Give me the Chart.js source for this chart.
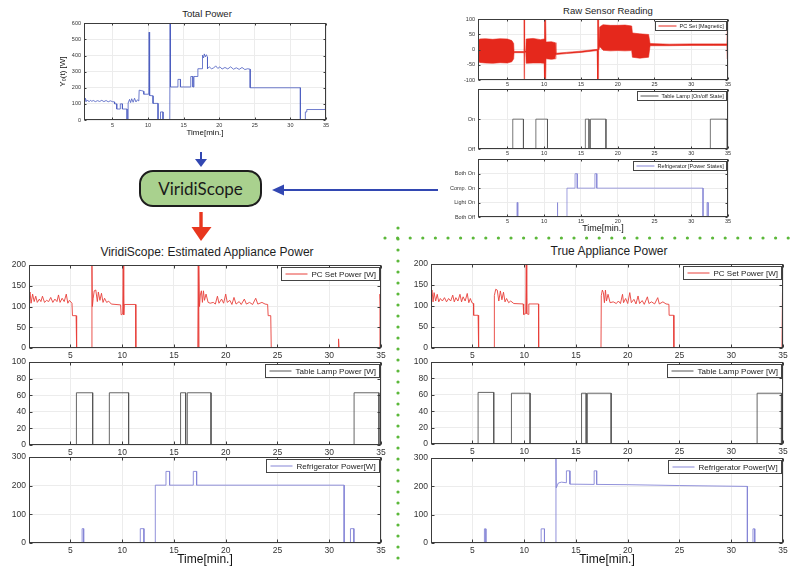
<!DOCTYPE html>
<html>
<head>
<meta charset="utf-8">
<script src="https://cdn.jsdelivr.net/npm/chart.js@4.4.0/dist/chart.umd.min.js"></script>
<style>
  body { margin: 0; background: #fff; width: 793px; height: 567px; overflow: hidden; position: relative;
         font-family: "Liberation Sans", Arial, sans-serif; }
  .plot { position: absolute; }
  .ttl { position: absolute; transform: translate(-50%, -50%); white-space: nowrap; color: #1e1e1e; }
  #scope { position: absolute; left: 139px; top: 170px; width: 123px; height: 37px; box-sizing: border-box;
           border: 2px solid #1d1d1d; border-radius: 14px; background: #a9d18e;
           display: flex; align-items: center; justify-content: center;
           font-family: Lato, sans-serif; font-size: 17px; font-weight: 400; color: #1a1a1a; }
  svg { position: absolute; left: 0; top: 0; }
</style>
</head>
<body>
<svg width="793" height="567">
  <!-- séparateurs pointillés -->
  <line x1="385" y1="238" x2="793" y2="238" stroke="#5cb83a" stroke-width="3.2" stroke-linecap="round" stroke-dasharray="0 12.6"/>
  <line x1="398" y1="228" x2="398" y2="567" stroke="#5cb83a" stroke-width="3.2" stroke-linecap="round" stroke-dasharray="0 11"/>
  <!-- flèches -->
  <line x1="201" y1="152" x2="201" y2="161" stroke="#3247b2" stroke-width="2"/>
  <polygon points="195,159 207,159 201,167" fill="#3247b2"/>
  <line x1="438" y1="190" x2="282" y2="190" stroke="#3247b2" stroke-width="2"/>
  <polygon points="284,184.5 284,195.5 272,190" fill="#3247b2"/>
  <line x1="201" y1="212" x2="201" y2="229" stroke="#e8361e" stroke-width="3.4"/>
  <polygon points="191.5,227 211.5,227 201,241" fill="#e8361e"/>
</svg>

<div class="ttl" style="left:207px; top:13px; font-size:9.5px;">Total Power</div>
<div class="ttl" style="left:608px; top:10px; font-size:9.5px;">Raw Sensor Reading</div>
<div class="ttl" style="left:207px; top:252px; font-size:12px;">ViridiScope: Estimated Appliance Power</div>
<div class="ttl" style="left:609px; top:251px; font-size:12px;">True Appliance Power</div>
<div id="scope">ViridiScope</div>

<script>
// ---- ticks / labels ----
const timeTicks = [5, 10, 15, 20, 25, 30, 35];
const totalTicks = [0, 100, 200, 300, 400, 500, 600];
const magneticTicks = [-100, -50, 0, 50, 100];
const lampStateTicks = [0, 1];
const lampStateLabels = ['Off', 'On'];
const fridgeStateTicks = [0, 1, 2, 3];
const fridgeStateLabels = ['Both Off', 'Light On', 'Comp. On', 'Both On'];
const pcTicks = [0, 50, 100, 150, 200];
const lampTicks = [0, 20, 40, 60, 80, 100];
const fridgeTicks = [0, 100, 200, 300];

// ---- données [temps (min), valeur] ----
const totalPower = [
  [1.0,128],[1.1,112],[1.2,135],[1.35,115],[1.5,124],[1.7,113],[1.9,122],[2.1,116],[2.3,121],[2.6,114],
  [2.9,120],[3.2,115],[3.5,122],[3.8,114],[4.1,121],[4.4,113],[4.7,119],[5.0,114],[5.3,112],
  [5.3,100],[5.6,100],[5.6,68],[6.1,68],[6.1,100],[6.4,100],[6.4,68],[7.05,68],[7.05,0],[7.2,0],[7.2,105],
  [7.4,128],[7.55,108],[7.7,132],[7.9,110],[8.1,135],[8.3,112],[8.5,125],[8.7,118],[8.75,185],[9.1,182],
  [9.4,178],[9.4,160],[10.1,160],[10.15,545],[10.22,152],[10.7,150],[10.7,103],[11.4,103],[11.4,0],
  [11.75,0],[11.75,50],[12.1,50],[12.1,0],[13.05,0],[13.1,600],[13.15,205],[14.2,205],[14.2,252],[14.55,252],
  [14.55,205],[16.0,205],[16.0,270],[16.3,270],[16.3,205],[16.45,205],[16.45,270],[17.0,270],[17.0,318],[17.65,318],
  [17.65,402],[17.8,385],[17.9,410],[18.05,392],[18.2,405],[18.35,390],[18.35,318],[18.6,330],[18.9,318],[19.2,322],
  [19.5,336],[19.8,320],[20.1,330],[20.4,316],[20.8,326],[21.2,317],[21.6,330],[22.0,315],[22.4,324],[22.8,314],
  [23.2,326],[23.6,313],[24.0,318],[24.35,315],[24.35,200],[31.4,200],[31.4,0],[32.1,0],[32.1,50],[32.3,50],
  [32.3,65],[34.9,65],[35.0,120]
];

// [temps, bas, haut] de l'enveloppe du signal magnétique
const magneticBand = [
  [1.0,-30,25],[1.2,-42,35],[2.0,-44,36],[3.0,-45,34],[4.0,-43,36],[5.0,-44,35],[5.6,-40,30],[5.85,-30,20],
  [5.9,-10,-6],[7.25,-10,-6],[7.28,-100,100],[7.32,-100,100],[7.35,-10,-6],[7.5,-8,-4],[7.55,-45,35],[8.5,-44,37],
  [9.5,-44,33],[10.0,-45,35],[10.05,-100,100],[10.2,-100,100],[10.25,-30,25],[11.0,-32,26],[11.5,-30,23],
  [11.6,-16,-12],[13.0,-13,-9],[15.0,-9,-5],[17.2,-3,1],[17.28,-100,100],[17.32,-100,100],[17.4,-3,1],
  [17.55,10,75],[18.0,-2,82],[19.0,-4,80],[20.0,-3,80],[21.0,-4,81],[21.9,-3,78],[22.0,-25,55],[23.0,-28,52],
  [24.2,-25,50],[24.4,13,20],[27.0,13,18],[30.0,14,19],[33.0,14,19],[34.85,14,19],[34.9,-30,60],[35.0,-25,50]
];

const lampState = [
  [1,0],[5.73,0],[5.73,1],[7.18,1],[7.18,0],[8.87,0],[8.87,1],[10.45,1],[10.45,0],[15.6,0],[15.6,1],[16.1,1],
  [16.1,0],[16.3,0],[16.3,1],[18.4,1],[18.4,0],[32.6,0],[32.6,1],[34.9,1],[34.9,0],[35,0]
];

const fridgeState = [
  [1,0],[6.3,0],[6.3,1],[6.4,1],[6.4,0],[11.75,0],[11.75,1],[11.85,1],[11.85,0],[13.1,0],[13.1,2],[14.2,2],
  [14.2,3],[14.5,3],[14.5,2],[16.9,2],[16.9,3],[17.15,3],[17.15,2],[31.6,2],[31.6,0],[32.15,0],[32.15,1],
  [32.3,1],[32.3,0],[35,0]
];

const pcEstimated = [
  [1.0,120],[1.1,135],[1.2,108],[1.35,130],[1.5,112],[1.65,125],[1.8,110],[2.0,118],[2.15,112],[2.3,125],
  [2.5,110],[2.7,115],[2.9,112],[3.1,122],[3.3,110],[3.5,118],[3.7,112],[3.85,128],[4.0,110],[4.2,120],
  [4.4,112],[4.6,130],[4.75,108],[4.9,115],[5.15,108],[5.2,78],[5.55,78],[5.6,0],
  [7.05,0],[7.08,200],[7.12,100],[7.2,120],[7.3,138],[7.45,140],[7.6,112],[7.7,135],[7.85,115],[8.0,132],
  [8.15,110],[8.3,120],[8.5,110],[8.7,113],[8.95,106],[9.85,104],[9.9,80],[10.05,82],[10.1,200],[10.15,80],
  [10.2,105],[11.3,105],[11.32,0],
  [17.3,0],[17.35,200],[17.38,0],[17.42,200],[17.47,100],[17.55,128],[17.65,138],[17.75,110],[17.85,138],
  [17.95,115],[18.1,130],[18.3,110],[18.5,108],[18.8,110],[19.0,106],[19.2,125],[19.35,108],[19.6,118],
  [19.8,108],[20.0,130],[20.15,110],[20.4,115],[20.6,105],[20.8,122],[21.0,106],[21.3,112],[21.5,105],
  [21.8,118],[22.0,106],[22.3,110],[22.6,105],[22.9,120],[23.1,106],[23.5,110],[23.8,106],[24.05,105],
  [24.1,78],[24.35,78],[24.4,0],[30.85,0],[30.9,22],[30.95,0],[34.85,0],[34.9,130],[34.95,105],[35,125]
];

const pcTrue = [
  [1.0,125],[1.1,138],[1.2,110],[1.3,132],[1.45,112],[1.6,128],[1.75,110],[1.9,118],[2.1,112],[2.3,120],
  [2.5,110],[2.7,118],[2.9,112],[3.1,126],[3.25,110],[3.4,120],[3.6,112],[3.8,128],[3.95,110],[4.1,122],
  [4.3,112],[4.5,130],[4.65,108],[4.8,118],[4.95,108],[5.1,106],[5.12,78],[5.55,78],[5.6,0],
  [7.1,0],[7.12,125],[7.25,140],[7.4,138],[7.55,112],[7.7,136],[7.85,115],[8.0,133],[8.15,110],[8.3,118],
  [8.5,108],[8.7,112],[9.0,106],[9.9,105],[9.95,80],[10.15,82],[10.2,200],[10.25,82],[10.44,80],[10.45,105],
  [11.38,105],[11.4,0],
  [17.42,0],[17.45,125],[17.55,138],[17.65,132],[17.75,108],[17.85,138],[17.95,112],[18.1,128],[18.3,108],
  [18.6,110],[18.9,106],[19.1,112],[19.3,106],[19.5,128],[19.6,108],[19.8,118],[20.0,106],[20.2,132],
  [20.35,108],[20.6,116],[20.8,105],[21.0,124],[21.15,106],[21.4,113],[21.6,104],[21.9,122],[22.05,106],
  [22.3,110],[22.6,105],[22.9,120],[23.05,105],[23.4,110],[23.7,105],[23.98,104],[24.0,78],[24.44,78],
  [24.46,0],[34.9,0],[34.95,132],[35,105]
];

const lampEstimated = [
  [1,0],[5.58,0],[5.58,63],[7.15,63],[7.15,0],[8.76,0],[8.76,63],[10.62,63],[10.62,0],[15.64,0],[15.64,63],
  [16.13,63],[16.13,0],[16.29,0],[16.29,63],[18.58,63],[18.58,0],[32.4,0],[32.4,63],[34.8,63],[34.8,0],[35,0]
];

const lampTrue = [
  [1,0],[5.55,0],[5.55,63],[7.06,63],[7.06,0],[8.77,0],[8.77,62],[10.57,62],[10.57,0],[15.54,0],[15.54,62],
  [15.99,62],[15.99,0],[16.1,0],[16.1,62],[18.4,62],[18.4,0],[32.5,0],[32.5,62],[34.85,62],[34.85,0],[35,0]
];

const fridgeEstimated = [
  [1,0],[6.13,0],[6.13,50],[6.28,50],[6.28,0],[11.75,0],[11.75,50],[12.1,50],[12.1,0],[13.2,0],[13.2,202],
  [14.23,202],[14.23,250],[14.58,250],[14.58,202],[16.87,202],[16.87,250],[17.19,250],[17.19,202],[31.44,202],
  [31.44,0],[32.05,0],[32.05,50],[32.38,50],[32.38,0],[35,0]
];

const fridgeTrue = [
  [1,0],[6.16,0],[6.16,50],[6.3,50],[6.3,0],[11.64,0],[11.64,50],[11.96,50],[11.96,0],[13.05,0],[13.07,300],
  [13.1,195],[13.3,212],[13.6,215],[14.05,213],[14.08,255],[14.4,255],[14.42,208],[16.76,207],[16.76,255],
  [17.0,255],[17.0,207],[20,206],[25,203],[31.56,200],[31.56,0],[32.1,0],[32.1,50],[32.27,50],[32.27,0],[35,0]
];

// ---- couleurs ----
const pcColor = '#e8403a';
const bandColor = '#e5281c';
const lampColor = '#555555';
const fridgeColor = '#8585d6';
const totalColor = '#4a5cc0';

Chart.defaults.font.family = '"Liberation Sans", Arial, sans-serif';
Chart.defaults.color = '#333';

const toXY = arr => arr.map(p => ({ x: p[0], y: p[1] }));

// cadre + graduations internes + légende façon Matlab
const framePlugin = {
  id: 'frame',
  afterDatasetsDraw(chart, args, o) {
    const { ctx, chartArea: a, scales } = chart;
    ctx.save();
    ctx.strokeStyle = '#3c3c3c';
    ctx.lineWidth = 1;
    const L = Math.round(a.left) + 0.5, T = Math.round(a.top) + 0.5;
    const R = Math.round(a.right) - 0.5, B = Math.round(a.bottom) - 0.5;
    ctx.strokeRect(L, T, R - L, B - T);
    const tl = o.tick || 3;
    ctx.beginPath();
    scales.x.ticks.forEach(t => {
      const px = Math.round(scales.x.getPixelForValue(t.value)) + 0.5;
      ctx.moveTo(px, B); ctx.lineTo(px, B - tl);
      ctx.moveTo(px, T); ctx.lineTo(px, T + tl);
    });
    scales.y.ticks.forEach(t => {
      const py = Math.round(scales.y.getPixelForValue(t.value)) + 0.5;
      ctx.moveTo(L, py); ctx.lineTo(L + tl, py);
      ctx.moveTo(R, py); ctx.lineTo(R - tl, py);
    });
    ctx.stroke();

    const ds = chart.data.datasets[o.legendIndex || 0];
    if (ds && o.fontSize) {
      ctx.font = o.fontSize + 'px "Liberation Sans", Arial, sans-serif';
      const tw = ctx.measureText(ds.label).width;
      const h = Math.round(o.fontSize * 1.6);
      const w = Math.round(o.pad + o.sample + o.pad + tw + o.pad);
      const x = Math.round(a.right - w - o.inset) + 0.5, y = Math.round(a.top + o.inset) + 0.5;
      ctx.fillStyle = '#fff';
      ctx.fillRect(x, y, w, h);
      ctx.strokeStyle = '#444';
      ctx.strokeRect(x, y, w, h);
      ctx.strokeStyle = ds.borderColor;
      ctx.beginPath();
      ctx.moveTo(x + o.pad, y + h / 2);
      ctx.lineTo(x + o.pad + o.sample, y + h / 2);
      ctx.stroke();
      ctx.fillStyle = '#222';
      ctx.textBaseline = 'middle';
      ctx.textAlign = 'left';
      ctx.fillText(ds.label, x + 2 * o.pad + o.sample, y + h / 2 + 0.5);
    }
    ctx.restore();
  }
};

function makePlot(p) {
  const left = p.l - p.padL, top = p.t - p.padT;
  const w = p.r - left + p.padR, h = p.b - top + p.padB;
  const div = document.createElement('div');
  div.className = 'plot';
  div.style.left = left + 'px';
  div.style.top = top + 'px';
  div.style.width = w + 'px';
  div.style.height = h + 'px';
  const cv = document.createElement('canvas');
  cv.width = w;
  cv.height = h;
  div.appendChild(cv);
  document.body.appendChild(div);

  const tickFont = { size: p.font };
  return new Chart(cv, {
    type: 'line',
    data: { datasets: p.datasets },
    options: {
      responsive: false,
      animation: false,
      devicePixelRatio: 1,
      layout: { padding: { top: p.padT, right: p.padR, left: 0, bottom: 0 } },
      elements: { point: { radius: 0 }, line: { tension: 0, borderWidth: 1 } },
      plugins: { legend: { display: false }, tooltip: { enabled: false }, frame: p.frame },
      scales: {
        x: {
          type: 'linear', min: 1, max: 35,
          afterBuildTicks: s => { s.ticks = timeTicks.map(v => ({ value: v })); },
          afterFit: s => { s.height = p.padB; },
          grid: { color: '#ececec', drawTicks: false },
          border: { display: false },
          ticks: { autoSkip: false, maxRotation: 0, padding: p.xPad, font: tickFont, color: '#333' },
          title: { display: !!p.xTitle, text: p.xTitle || '', font: { size: p.xTitleSize || 10 }, padding: 0, color: '#111' }
        },
        y: {
          type: 'linear', min: p.yMin, max: p.yMax,
          afterBuildTicks: s => { s.ticks = p.yTicks.map(v => ({ value: v })); },
          afterFit: s => { s.width = p.padL; },
          grid: { color: '#ececec', drawTicks: false },
          border: { display: false },
          ticks: { padding: p.yPad, font: tickFont, color: '#333', callback: p.yFmt || (v => v) },
          title: { display: !!p.yTitle, text: p.yTitle || '', font: { size: p.yTitleSize || 10 }, padding: 0, color: '#111' }
        }
      }
    },
    plugins: [framePlugin]
  });
}

const line = (label, arr, color, width) => ({
  label: label, data: toXY(arr), borderColor: color, borderWidth: width || 1, fill: false
});

// ---- puissance totale ----
makePlot({
  l: 84, t: 22, r: 326, b: 120, padL: 26, padT: 5, padR: 8, padB: 18,
  font: 5.5, xPad: 2, yPad: 3, xTitle: 'Time[min.]', xTitleSize: 8, yTitle: 'Y\u2080(t) [W]', yTitleSize: 8,
  yMin: 0, yMax: 600, yTicks: totalTicks,
  datasets: [line('Total Power', totalPower, totalColor, 0.8)],
  frame: { tick: 2 }
});

// ---- lectures brutes des capteurs ----
const smallLegend = { fontSize: 5.5, pad: 3, sample: 18, inset: 2, tick: 2 };
makePlot({
  l: 478, t: 18, r: 728, b: 80, padL: 34, padT: 5, padR: 8, padB: 9,
  font: 5.5, xPad: 1, yPad: 3, yMin: -100, yMax: 100, yTicks: magneticTicks,
  datasets: [
    { label: 'low', data: magneticBand.map(p => ({ x: p[0], y: p[1] })), borderColor: bandColor, borderWidth: 0.6, fill: false },
    { label: 'PC Set [Magnetic]', data: magneticBand.map(p => ({ x: p[0], y: p[2] })), borderColor: bandColor,
      borderWidth: 0.6, backgroundColor: bandColor, fill: '-1' }
  ],
  frame: Object.assign({ legendIndex: 1 }, smallLegend)
});
makePlot({
  l: 478, t: 87, r: 728, b: 149, padL: 34, padT: 4, padR: 8, padB: 9,
  font: 5.5, xPad: 1, yPad: 3, yMin: 0, yMax: 2, yTicks: lampStateTicks, yFmt: v => lampStateLabels[v],
  datasets: [line('Table Lamp [On/off State]', lampState, lampColor, 0.8)],
  frame: smallLegend
});
makePlot({
  l: 478, t: 157, r: 728, b: 217, padL: 34, padT: 4, padR: 8, padB: 17,
  font: 5.5, xPad: 1, yPad: 3, yMin: 0, yMax: 4, yTicks: fridgeStateTicks, yFmt: v => fridgeStateLabels[v],
  xTitle: 'Time[min.]', xTitleSize: 9,
  datasets: [line('Refrigerator [Power States]', fridgeState, fridgeColor, 0.8)],
  frame: smallLegend
});

// ---- puissances estimées / réelles ----
const bigLegend = { fontSize: 8, pad: 4, sample: 22, inset: 2, tick: 3 };
function appliancePanels(l, r, tops, pc, lamp, fridge) {
  makePlot({
    l: l, t: tops[0], r: r, b: tops[1], padL: 28, padT: 6, padR: r > 700 ? 9 : 10, padB: 14,
    font: 8.5, xPad: 3, yPad: 3, yMin: 0, yMax: 200, yTicks: pcTicks,
    datasets: [line('PC Set Power [W]', pc, pcColor, 0.9)],
    frame: bigLegend
  });
  makePlot({
    l: l, t: tops[2], r: r, b: tops[3], padL: 28, padT: 6, padR: r > 700 ? 9 : 10, padB: 12,
    font: 8.5, xPad: 3, yPad: 3, yMin: 0, yMax: 100, yTicks: lampTicks,
    datasets: [line('Table Lamp Power [W]', lamp, lampColor, 0.9)],
    frame: bigLegend
  });
  makePlot({
    l: l, t: tops[4], r: r, b: tops[5], padL: 28, padT: 6, padR: r > 700 ? 9 : 10, padB: 24,
    font: 8.5, xPad: 3, yPad: 3, yMin: 0, yMax: 300, yTicks: fridgeTicks,
    xTitle: 'Time[min.]', xTitleSize: 12,
    datasets: [line('Refrigerator Power[W]', fridge, fridgeColor, 0.9)],
    frame: bigLegend
  });
}

appliancePanels(29, 381, [263, 348, 360, 445, 455, 543], pcEstimated, lampEstimated, fridgeEstimated);
appliancePanels(431, 783, [262, 348, 360, 444, 456, 543], pcTrue, lampTrue, fridgeTrue);
</script>
</body>
</html>
